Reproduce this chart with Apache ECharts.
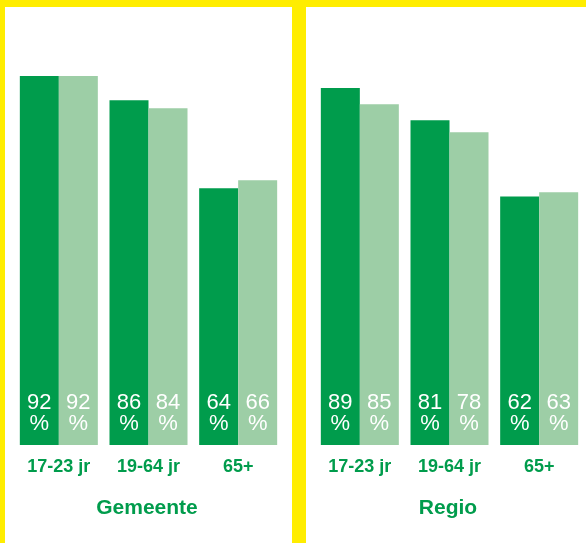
<!DOCTYPE html>
<html><head><meta charset="utf-8">
<script src="https://cdn.jsdelivr.net/npm/echarts@6/dist/echarts.min.js"></script>
<style>html,body{margin:0;padding:0;background:#fff}#c{width:586px;height:543px}</style>
</head><body><div id="c"></div>
<script>
const categories = ['17-23 jr', '19-64 jr', '65+'];
const panels = ['Gemeente', 'Regio'];
const gemeenteA = [92, 86, 64];
const gemeenteB = [92, 84, 66];
const regioA = [89, 81, 62];
const regioB = [85, 78, 63];

const DARK = '#009c4c', LIGHT = '#9dcea6', YEL = '#ffed00';
const FONT = 'Liberation Sans, Arial, sans-serif';

const grids = [
  {left: 14, width: 269, top: 44, bottom: 98},
  {left: 315, width: 269, top: 44, bottom: 98}
];
const label = {
  show: true, position: 'insideBottom', distance: 11,
  color: '#fff', fontSize: 22, fontFamily: FONT, lineHeight: 21,
  formatter: p => p.value + '\n%'
};
function bar(idx, data, color) {
  return {type: 'bar', xAxisIndex: idx, yAxisIndex: idx, data: data,
    barWidth: 39, barGap: '0%', itemStyle: {color: color}, label: label,
    silent: true, animation: false};
}
const chart = echarts.init(document.getElementById('c'));
chart.setOption({
  animation: false,
  grid: grids,
  xAxis: [0, 1].map(i => ({type: 'category', gridIndex: i, data: categories,
    axisLine: {show: false}, axisTick: {show: false},
    axisLabel: {color: DARK, fontSize: 18, fontFamily: FONT, fontWeight: 'bold', margin: 13}})),
  yAxis: [0, 1].map(i => ({type: 'value', gridIndex: i, min: 0, max: 100,
    show: false, splitLine: {show: false}})),
  series: [
    bar(0, gemeenteA, DARK), bar(0, gemeenteB, LIGHT),
    bar(1, regioA, DARK), bar(1, regioB, LIGHT)
  ],
  graphic: [
    {type: 'rect', shape: {x: 0, y: 0, width: 5, height: 543}, style: {fill: YEL}},
    {type: 'rect', shape: {x: 0, y: 0, width: 586, height: 7}, style: {fill: YEL}},
    {type: 'rect', shape: {x: 292, y: 0, width: 14, height: 543}, style: {fill: YEL}},
    {type: 'text', x: 147, y: 508, style: {text: panels[0], fill: DARK, fontSize: 21,
      fontWeight: 'bold', fontFamily: FONT, textAlign: 'center', textVerticalAlign: 'middle'}},
    {type: 'text', x: 448, y: 508, style: {text: panels[1], fill: DARK, fontSize: 21,
      fontWeight: 'bold', fontFamily: FONT, textAlign: 'center', textVerticalAlign: 'middle'}}
  ]
});
</script></body></html>
